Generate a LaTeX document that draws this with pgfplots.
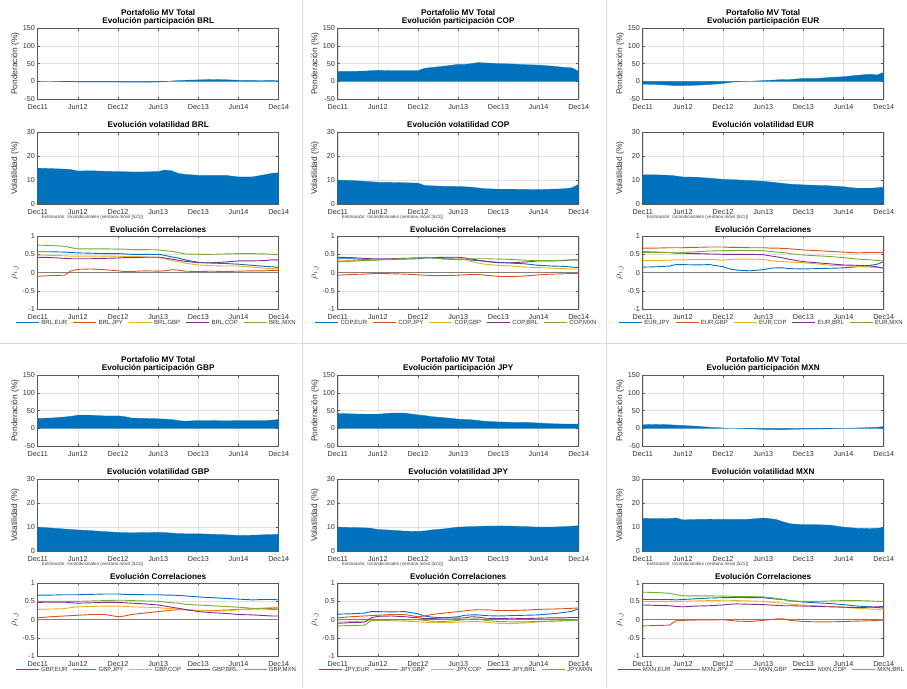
\documentclass[border=0pt]{standalone}
\usepackage{fontspec}
\setmainfont{Liberation Sans}
\usepackage{pgfplots}
\usepackage{pgfplotstable}
\pgfplotsset{compat=1.18}

\definecolor{mblue}{rgb}{0,0.447,0.741}
\definecolor{morange}{rgb}{0.85,0.325,0.098}
\definecolor{myellow}{rgb}{0.929,0.694,0.125}
\definecolor{mpurple}{rgb}{0.494,0.184,0.556}
\definecolor{mgreen}{rgb}{0.466,0.674,0.188}

\newcommand\titlefont{\fontsize{8.2}{9}\selectfont\bfseries}
\newcommand\tickfont{\fontsize{7.2}{8}\selectfont}
\newcommand\labfont{\fontsize{8.4}{9}\selectfont}
\newcommand\legfont{\fontsize{6}{7}\selectfont}
\newcommand\notefont{\fontsize{4.6}{5}\selectfont}

\pgfplotstableread{
x p v a b c d e
0 0.5 15.0 .57 -.10 .48 .42 .75
2 0 14.8 .57 -.08 .47 .41 .74
4 -1 14.6 .56 -.07 .46 .39 .72
5 -1.5 14.4 .55 .05 .45 .38 .68
6 -2 13.8 .54 .09 .45 .38 .65
8 -2 13.9 .53 .10 .45 .38 .65
10 -2 13.7 .52 .08 .45 .39 .65
12 -2 13.5 .52 .05 .45 .40 .64
13 -2.5 13.5 .51 .03 .44 .41 .64
14 -2.5 13.4 .50 .03 .44 .41 .63
16 -2.5 13.4 .50 .05 .43 .42 .63
18 -2 13.6 .50 .04 .42 .42 .62
19 -1 14.2 .47 .05 .38 .40 .60
20 1 13.9 .43 .08 .33 .37 .58
21 2 12.8 .40 .07 .30 .34 .55
22 3 12.4 .35 .04 .26 .31 .51
24 4 12.0 .28 .03 .21 .27 .50
26 5 12.0 .26 .04 .19 .27 .50
28 4.5 12.0 .25 .03 .18 .29 .51
30 3 11.3 .23 .04 .18 .32 .52
32 2.5 11.3 .20 .05 .15 .32 .52
34 2 12.3 .17 .05 .12 .33 .51
35 2 12.8 .16 .06 .11 .35 .50
36 1.5 13.1 .14 .06 .10 .35 .50
}\tBRL

\pgfplotstableread{
x p v a b c d e
0 28 10.0 .38 -.07 .32 .42 .30
2 28 9.8 .38 -.05 .33 .41 .31
4 29 9.5 .36 -.04 .34 .39 .33
5 30 9.3 .35 -.03 .35 .38 .34
6 31 9.1 .35 -.02 .35 .38 .35
8 30 9.0 .36 -.03 .37 .38 .37
10 30 8.9 .37 -.04 .38 .39 .38
12 30 8.7 .38 -.06 .40 .40 .40
13 37 7.7 .40 -.07 .41 .41 .42
14 39 7.6 .40 -.08 .41 .41 .41
16 43 7.4 .38 -.08 .41 .42 .37
18 48 7.3 .37 -.07 .40 .42 .35
19 48 7.2 .36 -.06 .36 .40 .36
20 50 7.0 .34 -.05 .30 .37 .38
21 53 6.7 .33 -.05 .26 .34 .38
22 52 6.4 .31 -.07 .23 .31 .38
24 50 6.2 .28 -.10 .20 .27 .37
26 49 6.2 .26 -.11 .18 .27 .36
28 47 6.1 .24 -.09 .15 .29 .34
30 46 6.0 .20 -.06 .14 .32 .33
32 43 6.2 .18 -.04 .12 .32 .33
34 39 6.4 .17 -.03 .11 .33 .34
35 38 6.8 .15 -.02 .10 .35 .35
36 28 8.2 .14 -.02 .10 .35 .35
}\tCOP

\pgfplotstableread{
x p v a b c d e
0 -8 12.2 .15 .67 .33 .57 .55
2 -9 12.2 .16 .67 .33 .56 .55
4 -11 12.0 .18 .68 .34 .55 .55
5 -12 11.7 .22 .68 .35 .53 .54
6 -12 11.3 .22 .68 .35 .53 .55
8 -11 11.2 .21 .69 .36 .52 .57
10 -9 10.8 .22 .70 .36 .51 .59
12 -6 10.3 .16 .70 .34 .50 .60
13 -3 10.2 .10 .69 .36 .50 .60
14 -1 10.1 .07 .69 .37 .50 .61
16 0 9.8 .05 .68 .37 .50 .60
18 2 9.5 .08 .68 .36 .49 .60
19 3 9.2 .12 .67 .33 .46 .58
20 4 8.9 .13 .67 .31 .43 .56
21 5 8.6 .13 .66 .30 .40 .55
22 5 8.3 .11 .65 .29 .36 .52
24 8 8.0 .10 .62 .27 .30 .48
26 8 7.8 .11 .60 .24 .27 .46
28 11 7.6 .12 .58 .20 .24 .44
30 13 7.2 .13 .56 .19 .21 .41
32 17 6.6 .16 .54 .17 .20 .37
34 20 6.6 .20 .55 .15 .18 .35
35 18 6.8 .23 .55 .14 .16 .33
36 25 7.0 .30 .55 .14 .12 .32
}\tEUR

\pgfplotstableread{
x p v a b c d e
0 28 10.0 .67 .05 .28 .47 .50
2 29 9.6 .67 .08 .29 .48 .50
4 32 9.2 .68 .10 .30 .48 .50
5 34 9.0 .68 .11 .33 .46 .50
6 37 8.8 .68 .12 .35 .45 .50
8 37 8.5 .69 .14 .36 .46 .51
10 35 8.1 .70 .14 .37 .47 .52
12 35 7.8 .70 .08 .37 .47 .53
13 33 7.7 .69 .10 .36 .46 .53
14 29 7.6 .69 .14 .35 .45 .52
16 28 7.7 .68 .18 .34 .43 .51
18 27 7.8 .68 .22 .33 .40 .50
19 26 7.7 .67 .24 .31 .37 .48
20 25 7.5 .67 .26 .30 .34 .46
21 22 7.3 .66 .27 .29 .31 .45
22 20 7.2 .65 .27 .27 .28 .42
24 22 7.2 .62 .25 .25 .22 .40
26 22 7.0 .60 .25 .24 .19 .38
28 21 6.8 .58 .26 .24 .17 .36
30 22 6.5 .56 .28 .27 .14 .34
32 22 6.6 .54 .29 .30 .13 .31
34 22 6.8 .55 .30 .32 .11 .29
35 23 6.9 .55 .31 .33 .10 .28
36 25 7.0 .54 .32 .34 .10 .28
}\tGBP

\pgfplotstableread{
x p v a b c d e
0 42 10.0 .15 .05 -.07 -.10 -.17
2 41 9.8 .16 .08 -.05 -.08 -.16
4 40 9.7 .18 .10 -.04 -.07 -.15
5 40 9.5 .22 .11 -.03 .05 -.03
6 40 9.0 .22 .12 -.02 .09 -.02
8 43 8.7 .21 .14 -.03 .10 -.01
10 43 8.3 .22 .14 -.04 .08 -.01
12 38 8.2 .16 .08 -.06 .05 .00
13 36 8.4 .10 .10 -.07 .03 -.02
14 33 8.8 .07 .14 -.08 .03 -.04
16 30 9.3 .05 .18 -.08 .05 -.05
18 26 10.0 .08 .22 -.07 .04 -.02
19 25 10.1 .12 .24 -.06 .05 .00
20 24 10.2 .13 .26 -.05 .08 .02
21 22 10.3 .13 .27 -.05 .07 .02
22 20 10.4 .11 .27 -.07 .04 -.02
24 18 10.5 .10 .25 -.10 .03 -.05
26 17 10.4 .11 .25 -.11 .04 -.06
28 17 10.2 .12 .26 -.09 .03 -.06
30 15 10.0 .13 .28 -.06 .04 -.05
32 13 10.0 .16 .29 -.04 .05 -.04
34 12 10.2 .20 .30 -.03 .05 -.03
35 12 10.4 .23 .31 -.02 .06 -.02
36 12 10.6 .30 .32 -.02 .06 -.01
}\tJPY

\pgfplotstableread{
x p v a b c d e
0 10 13.7 .55 -.17 .50 .40 .75
2 11 13.5 .55 -.16 .50 .39 .74
4 10 13.6 .55 -.15 .50 .38 .72
5 9 13.8 .54 -.03 .50 .36 .68
6 8 13.0 .55 -.02 .50 .35 .65
8 6 13.2 .57 -.01 .51 .37 .65
10 3 13.3 .59 -.01 .52 .38 .65
12 1 13.2 .60 .00 .53 .40 .64
13 0 13.2 .60 -.02 .53 .42 .64
14 0 13.2 .61 -.04 .52 .43 .63
16 -1 13.3 .60 -.05 .51 .42 .63
18 -3 13.8 .60 -.02 .50 .41 .62
19 -3 13.5 .58 .00 .48 .40 .60
20 -4 13.1 .56 .02 .46 .39 .58
21 -4 12.2 .55 .02 .45 .38 .55
22 -3 11.4 .52 -.02 .42 .38 .51
24 -2 11.0 .48 -.05 .40 .37 .50
26 -2 11.0 .46 -.06 .38 .36 .50
28 -1 10.8 .44 -.06 .36 .35 .51
30 0 10.0 .41 -.05 .34 .34 .52
32 1 9.5 .37 -.04 .31 .33 .52
34 2 9.4 .35 -.03 .29 .34 .51
35 3 9.5 .33 -.02 .28 .35 .50
36 5 9.8 .32 -.01 .28 .36 .50
}\tMXN

\pgfplotsset{
  mbase/.style={
    scale only axis, width=241pt, anchor=north west,
    xmin=0, xmax=36, xtick={0,6,...,36},
    xticklabels={Dec11,Jun12,Dec12,Jun13,Dec13,Jun14,Dec14},
    grid=major, major grid style={black!12, line width=0.4pt},
    axis line style={black!65, line width=0.5pt},
    every tick/.style={black!65, line width=0.5pt},
    major tick length=2.4pt,
    tick label style={font=\tickfont, text=black!80},
    xticklabel style={inner sep=0pt, yshift=-5pt},
    yticklabel style={inner sep=0pt, xshift=-2.6pt},
    /pgf/number format/assume math mode=true,
    ylabel style={font=\labfont, text=black!80, at={(axis description cs:-0.094,0.5)}, anchor=center, inner sep=0pt},
    every axis title shift=0pt,
    title style={font=\titlefont, at={(0.5,1)}, anchor=base, inner sep=0pt},
  },
  area/.style={draw=mblue, fill=mblue, line width=0.3pt},
  cl/.style={line width=0.9pt},
}

\newcommand\panel[9]{%
\begin{axis}[mbase, at={(#3pt,#4pt)}, height=70.7pt,
  ymin=-50, ymax=150, ytick={-50,0,50,100,150}, yticklabels={-50,0,50,100,150},
  ylabel={Ponderación (\%)}, title={Evolución participación #2}, title style={yshift=4.6pt},
  extra description/.code={\node[font=\titlefont, anchor=base, inner sep=0pt, yshift=12.6pt] at (0.5,1) {Portafolio MV Total};}]
\addplot[area] table[x=x,y=p]{#1} \closedcycle;
\end{axis}
\begin{axis}[mbase, at={(#3pt,#4pt-104pt)}, height=71.7pt,
  ymin=0, ymax=30, ytick={0,10,20,30}, yticklabels={0,10,20,30},
  ylabel={Volatilidad (\%)}, title={Evolución volatilidad #2}, title style={yshift=4.3pt},
  extra description/.code={\node[font=\notefont, text=black!75, anchor=west, inner sep=0pt, xshift=4pt, yshift=-13pt] at (0,0) {Estimación: Incondicionales (ventana móvil [521])};}]
\addplot[area] table[x=x,y=v]{#1} \closedcycle;
\end{axis}
\begin{axis}[mbase, at={(#3pt,#4pt-207.7pt)}, height=73.3pt,
  ymin=-1, ymax=1, ytick={-1,-0.5,0,0.5,1}, yticklabels={-1,-0.5,0,0.5,1},
  ylabel={$\rho_{i,j}$}, ylabel style={font=\fontsize{10}{11}\selectfont},
  title={Evolución Correlaciones}, title style={yshift=3.2pt},
  legend columns=5, legend cell align=left,
  legend image code/.code={\draw[##1, line width=1pt] (0pt,0pt) -- (23pt,0pt);},
  legend style={at={(0.49,0)}, anchor=center, yshift=-13.4pt, draw=none, fill=none,
    inner sep=0pt, font=\legfont, text=black!80, nodes={inner sep=0.4pt},
    /tikz/every even column/.append style={column sep=5pt},
    /tikz/every odd column/.append style={column sep=1.5pt}}]
\addplot[black!50, line width=0.6pt, forget plot] coordinates {(0,0) (36,0)};
\addplot[cl, mblue] table[x=x,y=a]{#1}; \addlegendentry{#2,#5}
\addplot[cl, morange] table[x=x,y=b]{#1}; \addlegendentry{#2,#6}
\addplot[cl, myellow] table[x=x,y=c]{#1}; \addlegendentry{#2,#7}
\addplot[cl, mpurple] table[x=x,y=d]{#1}; \addlegendentry{#2,#8}
\addplot[cl, mgreen] table[x=x,y=e]{#1}; \addlegendentry{#2,#9}
\end{axis}}

\begin{document}
\begin{tikzpicture}
\path[use as bounding box, fill=white] (0,0) rectangle (907pt,688pt);
\draw[black!15, line width=0.7pt] (302.5pt,0pt) -- (302.5pt,688pt);
\draw[black!15, line width=0.7pt] (606.5pt,0pt) -- (606.5pt,688pt);
\draw[black!15, line width=0.7pt] (0pt,345pt) -- (907pt,345pt);
\panel{\tBRL}{BRL}{37.7}{659.7}{EUR}{JPY}{GBP}{COP}{MXN}
\panel{\tCOP}{COP}{337.7}{659.7}{EUR}{JPY}{GBP}{BRL}{MXN}
\panel{\tEUR}{EUR}{642.7}{659.7}{JPY}{GBP}{COP}{BRL}{MXN}
\panel{\tGBP}{GBP}{37.7}{312.7}{EUR}{JPY}{COP}{BRL}{MXN}
\panel{\tJPY}{JPY}{337.7}{312.7}{EUR}{GBP}{COP}{BRL}{MXN}
\panel{\tMXN}{MXN}{642.7}{312.7}{EUR}{JPY}{GBP}{COP}{BRL}
\end{tikzpicture}
\end{document}
